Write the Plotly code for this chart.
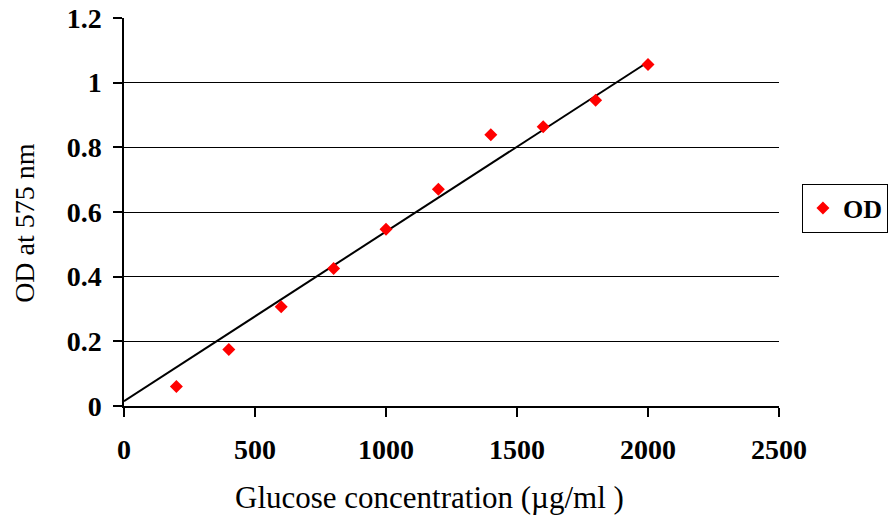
import plotly.graph_objects as go

# Data
glucose = [200, 400, 600, 800, 1000, 1200, 1400, 1600, 1800, 2000]
od_values = [0.06, 0.175, 0.307, 0.425, 0.547, 0.670, 0.839, 0.864, 0.946, 1.056]

# Trendline endpoints as drawn in the reference
trend_x = [0, 2000]
trend_y = [0.015, 1.064]

x_ticks = [0, 500, 1000, 1500, 2000, 2500]
x_tick_labels = ["0", "500", "1000", "1500", "2000", "2500"]
y_ticks = [0, 0.2, 0.4, 0.6, 0.8, 1.0, 1.2]
y_tick_labels = ["0", "0.2", "0.4", "0.6", "0.8", "1", "1.2"]

x_title = "Glucose concentration (µg/ml )"
y_title = "OD at 575 nm"

serif = "Times New Roman, Liberation Serif, serif"

fig = go.Figure()
fig.add_trace(go.Scatter(
    x=trend_x, y=trend_y, mode="lines",
    line=dict(color="black", width=2),
    showlegend=False, hoverinfo="skip",
))
fig.add_trace(go.Scatter(
    x=glucose, y=od_values, mode="markers", name="OD",
    marker=dict(symbol="diamond", color="#ff0000", size=10,
                line=dict(width=0)),
))

fig.update_layout(
    width=893, height=521,
    margin=dict(l=124, r=114, t=18, b=115, autoexpand=False),
    paper_bgcolor="white", plot_bgcolor="white",
    font=dict(family=serif, color="black"),
    showlegend=True,
    legend=dict(
        x=1.035, xanchor="left", y=0.51, yanchor="middle",
        bordercolor="black", borderwidth=1,
        font=dict(family=serif, size=26, weight="bold", color="black"),
        itemwidth=30, tracegroupgap=0,
    ),
    xaxis=dict(
        range=[0, 2500], tickvals=x_ticks, ticktext=x_tick_labels,
        automargin=False,
        showline=True, linecolor="black", linewidth=1.5,
        ticks="outside", ticklen=9, tickcolor="black", tickwidth=1.5,
        showgrid=False, zeroline=False,
        tickfont=dict(family=serif, size=28, weight="bold", color="black"),
        ticklabelstandoff=9, ticklabeloverflow="allow",
    ),
    yaxis=dict(
        range=[0, 1.2], tickvals=y_ticks, ticktext=y_tick_labels,
        automargin=False,
        showline=True, linecolor="black", linewidth=1.5,
        ticks="outside", ticklen=9, tickcolor="black", tickwidth=1.5,
        showgrid=True, gridcolor="black", gridwidth=1,
        zeroline=False,
        tickfont=dict(family=serif, size=28, weight="bold", color="black"),
        ticklabelstandoff=6, ticklabeloverflow="allow",
    ),
    annotations=[
        dict(text=x_title, xref="paper", yref="paper",
             x=0.467, y=0, xanchor="center", yanchor="middle",
             yshift=-91, showarrow=False,
             font=dict(family=serif, size=31, color="black")),
        dict(text=y_title, xref="paper", yref="paper",
             x=0, y=0.472, xanchor="center", yanchor="middle",
             xshift=-99, textangle=-90, showarrow=False,
             font=dict(family=serif, size=28, color="black")),
    ],
)

fig.write_html(
    "out.html",
    config={"displayModeBar": False},
    post_script="document.body.style.margin='0';"
                "document.documentElement.style.overflow='hidden';"
                "document.body.style.overflow='hidden';",
)
